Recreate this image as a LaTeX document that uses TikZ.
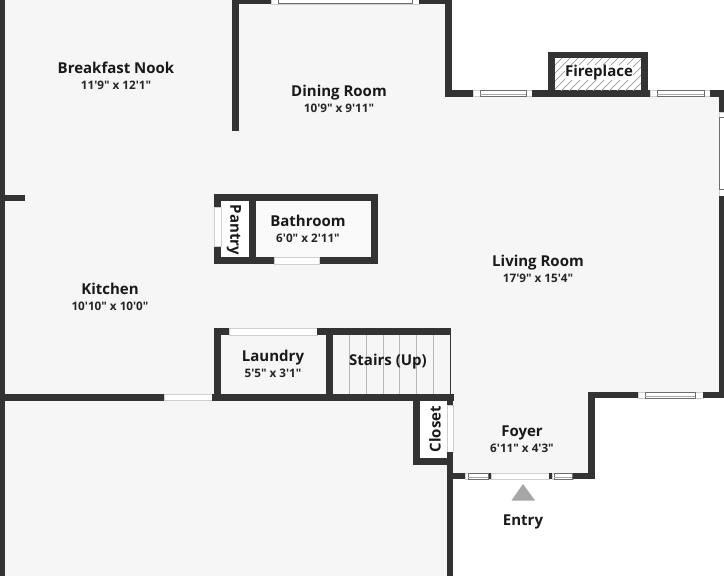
\documentclass[tikz,border=0pt]{standalone}
\usepackage{fontspec}
\newfontfamily\planfont{Open Sans}
\definecolor{wallc}{HTML}{333333}
\definecolor{floorc}{HTML}{F6F6F6}
\definecolor{glassc}{HTML}{6E6E6E}
\definecolor{edgec}{HTML}{CFCFCF}
\definecolor{stairc}{HTML}{B8B8B8}
\definecolor{triac}{HTML}{A6A6A6}
\tikzset{
  wall/.style={fill=wallc,draw=none},
  roomname/.style={font=\planfont\bfseries\fontsize{15}{16}\selectfont,text=black!90,inner sep=0pt},
  roomdim/.style={font=\planfont\bfseries\fontsize{11.7}{13}\selectfont,text=black!85,inner sep=0pt},
  opening/.style={fill=white,draw=edgec,line width=0.5pt},
  glass/.style={fill=white,draw=glassc,line width=0.8pt},
  stairline/.style={draw=stairc,line width=1pt},
}
\newcommand{\wl}[4]{\fill[wall] (#1,#2) rectangle (#3,#4);}
\newcommand{\hwin}[6]{% x0 x1 x2 x3 y0 y1
  \fill[opening] (#1,#5) rectangle (#4,#6);
  \draw[glass] (#2,#5) rectangle (#3,#6);
  \draw[glassc!60,line width=0.7pt] (#2,{(#5+#6)/2+0.6}) -- (#3,{(#5+#6)/2+0.6});}
\begin{document}
\begin{tikzpicture}[x=1pt,y=-1pt]
\useasboundingbox (0,0) rectangle (724,576);
\fill[white] (0,0) rectangle (724,576);
% floor
\fill[floorc] (0,0) -- (445,0) -- (445,97) -- (720,97) -- (720,395) -- (590,395) -- (590,476) -- (453,476) -- (453,576) -- (0,576) -- cycle;
% outer walls, left and upper
\wl{0}{0}{5}{576}
\wl{0}{195}{25}{201}
\wl{232}{0}{239}{131}
\wl{232}{0}{271}{3.5}
\fill[opening] (271,-1) rectangle (419,4);
\draw[glass] (278,-1) rectangle (412,3.5);
\wl{419}{0}{452}{3.5}
\wl{445}{0}{452}{97}
\wl{445}{90}{473}{97}
\hwin{473}{480}{526}{532}{90.5}{96.5}
\wl{532}{90}{650}{97}
\hwin{650}{657}{704}{710}{90.5}{96.5}
\wl{710}{90}{724}{97}
% right wall
\wl{719}{90}{724}{112}
\fill[opening] (719,112) rectangle (725,196);
\draw[glass] (719.5,117) rectangle (726,189);
\wl{719}{196}{724}{398}
% fireplace
\fill[wallc] (548,52) rectangle (648,97);
\fill[white] (555,58) rectangle (641,90);
\begin{scope}
\clip (555,58) rectangle (641,90);
\foreach \k in {0,8,...,136}{\draw[glassc!70,line width=0.7pt] (520+\k,92) -- ++(36,-36);}
\end{scope}
% lower right
\wl{588}{392}{638}{398}
\hwin{638}{645}{695}{703}{392.5}{398}
\wl{703}{392}{724}{398}
\wl{588}{392}{595}{479}
\wl{453}{473}{465}{479}
\hwin{465}{468}{488}{490}{473.5}{479}
\fill[opening] (491,473.5) rectangle (549,479);
\hwin{552}{554}{572}{573}{473.5}{479}
\wl{573}{473}{595}{479}
\wl{488.5}{473}{491}{479}
\wl{549}{473}{552}{479}
% middle horizontal wall
\wl{0}{394}{164}{401}
\fill[opening] (164,394.5) rectangle (212,400.5);
\wl{212}{394}{454}{401}
% closet
\fill[white] (420,401) rectangle (447,458);
\wl{413}{394}{420}{465}
\wl{413}{458}{453}{465}
\wl{447}{394}{453}{405}
\fill[opening] (447,405) rectangle (453,452);
\wl{447}{452}{453}{576}
% laundry
\wl{214}{328}{221}{401}
\wl{214}{328}{229}{335}
\fill[opening] (229,328) rectangle (317,335);
\wl{317}{328}{450}{335}
\wl{326}{328}{333}{401}
% stairs
\foreach \xx in {349,366,383,399,416,433}{\draw[stairline] (\xx,335) -- (\xx,394);}
\draw[wallc,line width=1pt] (450.5,328) -- (450.5,394);
% pantry and bathroom
\fill[wallc] (214,194) rectangle (378,264);
\fill[white] (221,201) rectangle (249,257);
\fill[white!50!floorc] (256,201) rectangle (371,257);
\fill[opening] (214,207) rectangle (221,246);
\fill[opening] (274,257) rectangle (319,264);
% entry marker
\fill[triac] (523,484) -- (535,500.5) -- (511.5,500.5) -- cycle;
% labels
\node[roomname] (nook) at (116,68) {Breakfast Nook};
\node[roomdim] (nookd) at (116,85.5) {11'9" x 12'1"};
\node[roomname] (din) at (339,93) {Dining Room};
\node[roomdim] (dind) at (339,108.5) {10'9" x 9'11"};
\node[roomname,fill=white] (fire) at (599,72.5) {Fireplace};
\node[roomname] (bath) at (308,220.5) {Bathroom};
\node[roomdim] (bathd) at (308,238.5) {6'0" x 2'11"};
\node[roomname,rotate=-90] (pan) at (234,230) {Pantry};
\node[roomname] (kit) at (110,289) {Kitchen};
\node[roomdim] (kitd) at (110,306.5) {10'10" x 10'0"};
\node[roomname] (lau) at (273,358) {Laundry};
\node[roomdim] (laud) at (273,373.5) {5'5" x 3'1"};
\node[roomname] (sta) at (388,361.5) {Stairs (Up)};
\node[roomname] (liv) at (538,263) {Living Room};
\node[roomdim] (livd) at (538,278.5) {17'9" x 15'4"};
\node[roomname,rotate=90] (clo) at (435,429) {Closet};
\node[roomname] (foy) at (522,432.5) {Foyer};
\node[roomdim] (foyd) at (522,448.5) {6'11" x 4'3"};
\node[roomname] (ent) at (523,522) {Entry};
\end{tikzpicture}
\end{document}
